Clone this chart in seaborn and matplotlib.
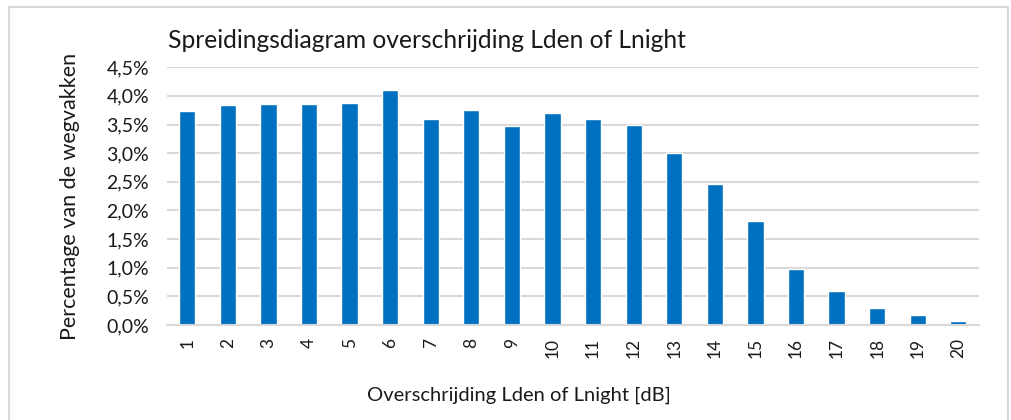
import matplotlib
matplotlib.use("Agg")
import matplotlib.pyplot as plt
import seaborn as sns
import pandas as pd
from matplotlib.patches import Rectangle
from matplotlib.ticker import FuncFormatter

categories = [str(i) for i in range(1, 21)]
percentages = [3.73, 3.84, 3.86, 3.86, 3.88, 4.10, 3.60, 3.75, 3.47, 3.70,
               3.59, 3.49, 3.00, 2.47, 1.82, 0.98, 0.59, 0.30, 0.18, 0.07]

sns.set_theme(style="white")
plt.rcParams['font.family'] = ['Lato', 'DejaVu Sans']

df = pd.DataFrame({'dB': categories, 'pct': percentages})

fig = plt.figure(figsize=(10.12, 4.2), dpi=100)
ax = fig.add_axes([0.165, 0.226, 0.802, 0.614])

sns.barplot(data=df, x='dB', y='pct', color='#0070C0', width=0.4,
            saturation=1, ax=ax)

ax.set_ylim(0, 4.5)
ax.set_xlim(-0.5, 19.5)
ax.set_yticks([i * 0.5 for i in range(10)])
ax.yaxis.set_major_formatter(FuncFormatter(lambda v, p: f"{v:.1f}%".replace('.', ',')))
ax.grid(axis='y', color='#D9D9D9', linewidth=1.5)
ax.set_axisbelow(True)
for s in ['top', 'right', 'left']:
    ax.spines[s].set_visible(False)
ax.spines['bottom'].set_color('#D9D9D9')
ax.spines['bottom'].set_linewidth(1.5)
ax.tick_params(axis='x', length=0, labelsize=12.5, colors='#1a1a1a', pad=9)
ax.tick_params(axis='y', length=0, labelsize=14, colors='#1a1a1a', pad=13)
plt.setp(ax.get_xticklabels(), rotation=90)

ax.set_xlabel('')
ax.set_ylabel('Percentage van de wegvakken', fontsize=15.5, color='#1a1a1a', labelpad=19)
fig.text(519 / 1012, 1 - 395 / 420, 'Overschrijding Lden of Lnight [dB]',
         fontsize=14.5, color='#1a1a1a', ha='center', va='center')
fig.text(0.166, 0.875, 'Spreidingsdiagram overschrijding Lden of Lnight',
         fontsize=17.7, color='#1a1a1a', ha='left', va='bottom')

fig.patches.append(Rectangle((9 / 1012, -0.01), 999 / 1012, 0.993, transform=fig.transFigure,
                             fill=False, edgecolor='#D9D9D9', linewidth=1.5))

fig.savefig('out.png', dpi=100)
